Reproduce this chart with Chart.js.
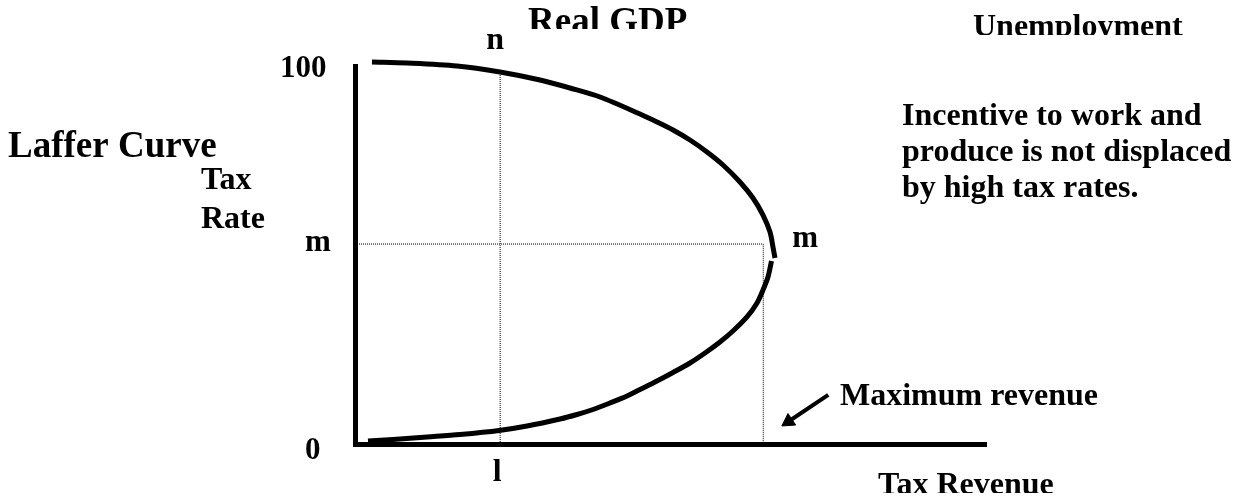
<!DOCTYPE html>
<html>
<head>
<meta charset="utf-8">
<script src="https://cdn.jsdelivr.net/npm/chart.js@4/dist/chart.umd.min.js"></script>
<style>
  html, body { margin: 0; padding: 0; background: #fff; }
  #wrap { width: 1235px; height: 497px; }
</style>
</head>
<body>
<div id="wrap"><canvas id="c" width="1235" height="497"></canvas></div>
<script>
// ---- data (tax revenue on x, tax rate on y) ----
const upperRevenue = [2.69, 8.24, 16.16, 22.98, 29.32, 34.07, 38.83, 45.17, 47.86, 50.40, 53.09, 55.78, 58.32, 61.01, 63.07, 64.66, 65.77, 66.24, 66.56];
const upperRate    = [101.06, 100.79, 100.0, 98.41, 96.30, 94.18, 91.80, 87.30, 85.19, 83.07, 80.42, 77.25, 73.81, 69.31, 65.08, 60.58, 56.08, 52.12, 49.21];
const lowerRevenue = [66.01, 65.45, 64.66, 63.71, 62.12, 59.90, 57.84, 55.47, 53.09, 50.40, 47.86, 45.17, 43.11, 40.41, 37.72, 35.18, 32.49, 27.26, 22.82, 16.64, 11.41, 6.02, 2.06];
const lowerRate    = [48.41, 44.18, 40.74, 37.30, 33.60, 29.89, 26.98, 24.07, 21.43, 18.92, 16.67, 14.42, 12.70, 10.85, 9.13, 7.80, 6.61, 4.76, 3.57, 2.51, 1.85, 1.19, 0.79];
const lRevenue = 23.0;      // revenue "l"
const nRate = 98.4;         // rate "n" on the curve above l
const mRate = 52.9;         // revenue-maximising rate "m"
const maxRevenue = 64.7;    // maximum revenue
const arrowFrom = [75.0, 13.0];
const arrowTo = [68.7, 5.95];
const yTickLabels = ['100', 'm', '0'];
const yTickValues = [100, mRate, 0];

const zip = (xs, ys) => xs.map((x, i) => ({ x: x, y: ys[i] }));
const FONT = "'Liberation Serif', 'Times New Roman', serif";

const textPlugin = {
  id: 'texts',
  afterDraw(chart) {
    const ctx = chart.ctx;
    const xs = chart.scales.x, ys = chart.scales.y;
    ctx.save();
    ctx.fillStyle = '#000';
    ctx.textBaseline = 'alphabetic';
    const put = (t, x, y, size, align, clipY) => {
      ctx.save();
      if (clipY !== undefined) {
        ctx.beginPath();
        ctx.rect(0, 0, chart.width, clipY);
        ctx.clip();
      }
      ctx.font = 'bold ' + size + 'px ' + FONT;
      ctx.textAlign = align || 'left';
      ctx.fillText(t, x, y);
      ctx.restore();
    };
    // y tick labels
    const yLeft = [280, 305, 305];
    const yOff = [11, 7, 15];
    yTickLabels.forEach((t, i) => {
      put(t, yLeft[i], ys.getPixelForValue(yTickValues[i]) + yOff[i], 31);
    });
    // axis markers
    const lx = xs.getPixelForValue(lRevenue);
    put('l', lx - 3, 481, 32, 'center');
    put('n', lx - 5, 49, 32, 'center');
    put('m', xs.getPixelForValue(maxRevenue) + 29, ys.getPixelForValue(mRate) + 3, 31);
    // titles / annotations
    put('Real GDP', 528, 33, 37, 'left', 29);
    put('Unemployment', 973, 36, 32, 'left', 35);
    put('Laffer Curve', 8, 157, 37);
    put('Tax', 201, 189, 32);
    put('Rate', 201, 228, 32);
    put('Incentive to work and', 902, 125, 32);
    put('produce is not displaced', 902, 161, 32);
    put('by high tax rates.', 902, 197, 32);
    put('Maximum revenue', 840, 405, 32);
    put('Tax Revenue', 878, 494, 32, 'left', 493);
    ctx.restore();
  }
};

const dotted = { borderColor: '#000', borderWidth: 1, borderDash: [1, 1], pointRadius: 0, tension: 0, clip: false };

new Chart(document.getElementById('c'), {
  type: 'scatter',
  data: {
    datasets: [
      Object.assign({ data: [{ x: lRevenue, y: 0 }, { x: lRevenue, y: nRate }], showLine: true }, dotted),
      Object.assign({ data: [{ x: 0, y: mRate }, { x: maxRevenue, y: mRate }, { x: maxRevenue, y: 0 }], showLine: true }, dotted),
      {
        data: zip(upperRevenue, upperRate), showLine: true, borderColor: '#000',
        borderWidth: 5, pointRadius: 0, tension: 0.3, clip: false, borderCapStyle: 'butt'
      },
      {
        data: zip(lowerRevenue, lowerRate), showLine: true, borderColor: '#000',
        borderWidth: 5, pointRadius: 0, tension: 0.3, clip: false, borderCapStyle: 'butt'
      },
      {
        data: [{ x: arrowFrom[0], y: arrowFrom[1] }, { x: arrowTo[0], y: arrowTo[1] }],
        showLine: true, borderColor: '#000', borderWidth: 4, clip: false,
        pointRadius: [0, 8], pointStyle: 'triangle', pointRotation: 236,
        pointBackgroundColor: '#000', pointBorderColor: '#000', pointBorderWidth: 1
      }
    ]
  },
  options: {
    responsive: false,
    animation: false,
    devicePixelRatio: 1,
    layout: { padding: { left: 355, top: 66, right: 249, bottom: 53 } },
    plugins: { legend: { display: false }, tooltip: { enabled: false } },
    scales: {
      x: {
        type: 'linear', min: 0, max: 100,
        grid: { display: false, drawTicks: false },
        ticks: { display: false },
        border: { display: true, width: 5, color: '#000' }
      },
      y: {
        type: 'linear', min: 0, max: 100,
        grid: { display: false, drawTicks: false },
        ticks: { display: false },
        border: { display: true, width: 5, color: '#000' }
      }
    }
  },
  plugins: [textPlugin]
});
</script>
</body>
</html>
